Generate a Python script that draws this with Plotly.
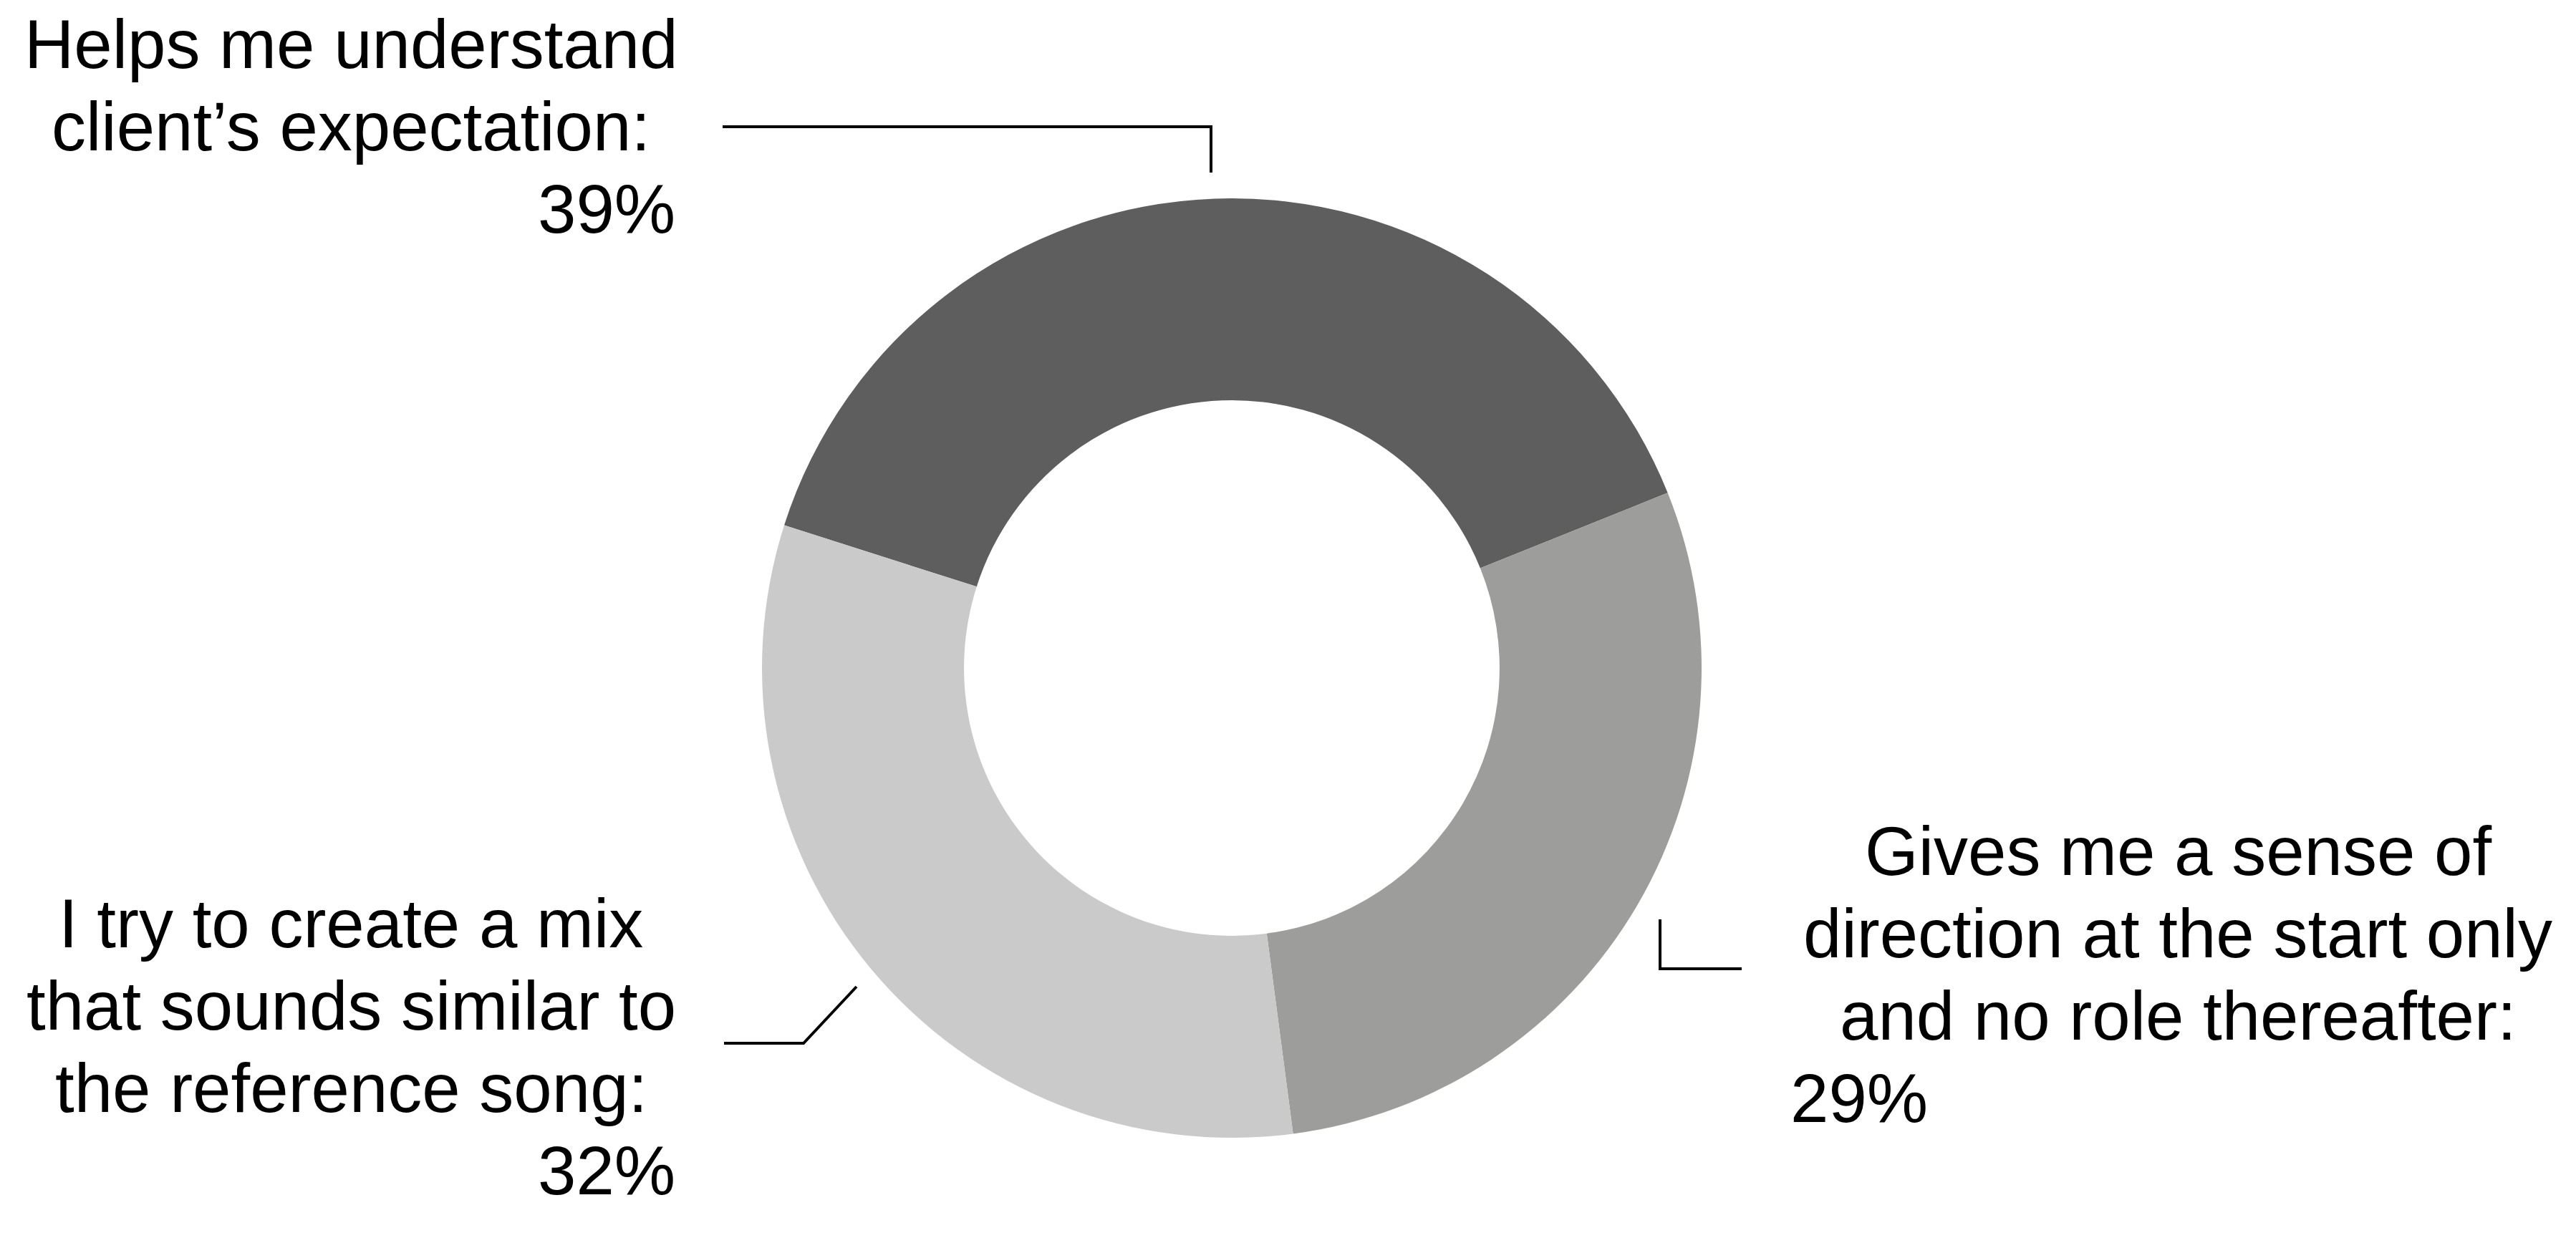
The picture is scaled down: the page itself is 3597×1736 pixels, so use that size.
import plotly.graph_objects as go

# Data
labels = [
    "Helps me understand client’s expectation",
    "Gives me a sense of direction at the start only and no role thereafter",
    "I try to create a mix that sounds similar to the reference song",
]
values = [39, 29, 32]
colors = ["#5e5e5e", "#9d9d9c", "#cacaca"]

# label text split into lines, as laid out in the picture
label_lines = [
    ["Helps me understand", "client’s expectation:"],
    ["Gives me a sense of", "direction at the start only", "and no role thereafter:"],
    ["I try to create a mix", "that sounds similar to", "the reference song:"],
]
pct_text = [f"{v}%" for v in values]

W, H = 3597, 1736
OFF = 8  # page body margin in the browser
FONT = "Liberation Sans, Arial, Helvetica, sans-serif"
FS = 96
PITCH = 115


def px(x):
    return (x - OFF) / W


def py(y):
    return 1 - (y - OFF) / H


# donut geometry (pixels)
cx, cy, r = 1720, 933, 656

fig = go.Figure()
fig.add_trace(go.Pie(
    labels=labels,
    values=values,
    marker=dict(colors=colors, line=dict(width=0)),
    hole=0.57,
    sort=False,
    direction="clockwise",
    rotation=-72.3,
    textinfo="none",
    showlegend=False,
    domain=dict(x=[px(cx - r), px(cx + r)], y=[py(cy + r), py(cy - r)]),
    hovertemplate="%{label}: %{value}%<extra></extra>",
))

# label blocks: (center x, first line y, percent anchor x, xanchor for percent)
blocks = [
    (490, 61, 945, "right"),
    (3041, 1188, 2498, "left"),
    (490, 1289, 945, "right"),
]

annotations = []
for (bx, by, pxx, panchor), lines, pct in zip(blocks, label_lines, pct_text):
    for i, line in enumerate(lines):
        annotations.append(dict(
            x=px(bx), y=py(by + i * PITCH), xref="paper", yref="paper",
            text=line, showarrow=False, xanchor="center", yanchor="middle",
            font=dict(family=FONT, size=FS, color="black"),
        ))
    annotations.append(dict(
        x=px(pxx), y=py(by + len(lines) * PITCH), xref="paper", yref="paper",
        text=pct, showarrow=False, xanchor=panchor, yanchor="middle",
        font=dict(family=FONT, size=FS, color="black"),
    ))

# leader lines (pixel paths)
leaders = [
    [(1009, 177), (1691, 177), (1691, 241)],
    [(2318, 1284), (2318, 1353), (2432, 1353)],
    [(1011, 1457), (1122, 1457), (1196, 1378)],
]
shapes = []
for pts in leaders:
    path = "M " + " L ".join(f"{px(x)},{py(y)}" for x, y in pts)
    shapes.append(dict(
        type="path", path=path, xref="paper", yref="paper",
        line=dict(color="black", width=4),
    ))

fig.update_layout(
    width=W, height=H,
    margin=dict(l=0, r=0, t=0, b=0),
    paper_bgcolor="white",
    plot_bgcolor="white",
    annotations=annotations,
    shapes=shapes,
    showlegend=False,
)

fig.write_html("out.html")
